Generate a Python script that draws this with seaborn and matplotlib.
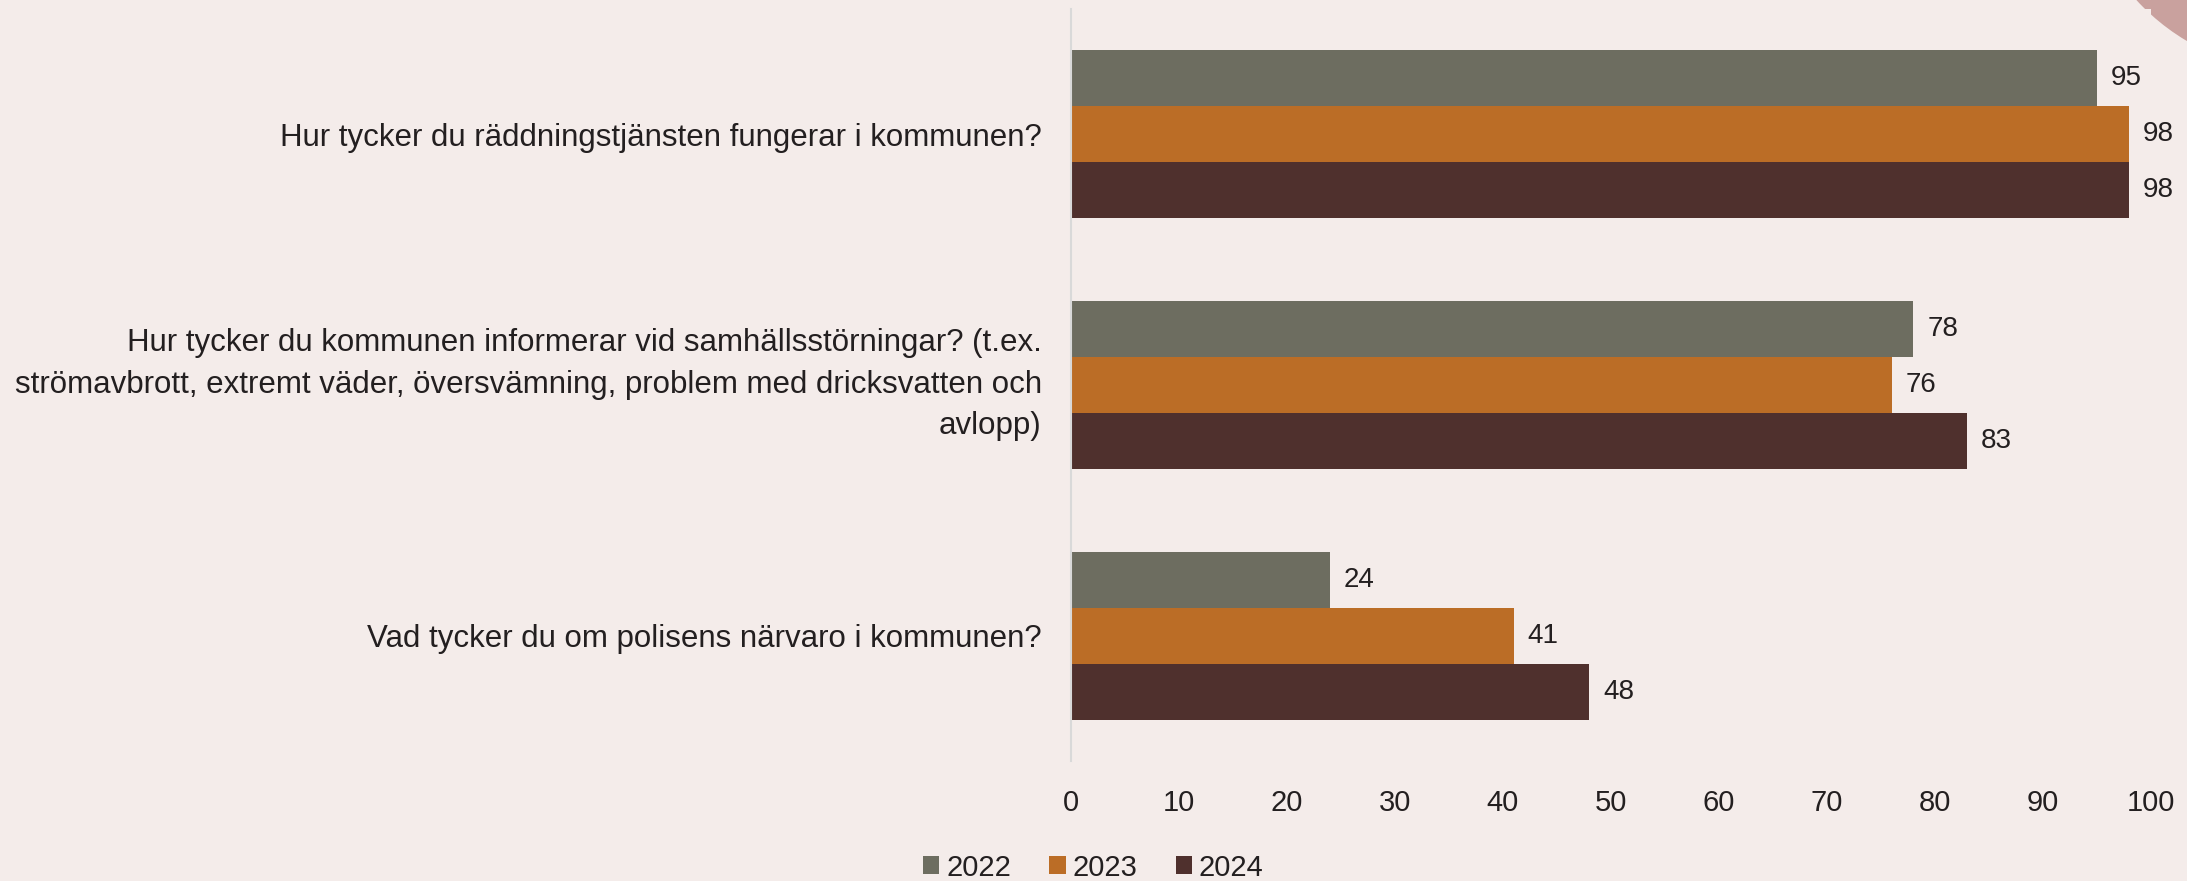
import matplotlib
matplotlib.use("Agg")
import matplotlib.pyplot as plt
import matplotlib.patches as mpatches
import seaborn as sns
import pandas as pd

questions = [
    "Hur tycker du räddningstjänsten fungerar i kommunen?",
    "Hur tycker du kommunen informerar vid samhällsstörningar? (t.ex.\nströmavbrott, extremt väder, översvämning, problem med dricksvatten och\navlopp)",
    "Vad tycker du om polisens närvaro i kommunen?",
]
years = ["2022", "2023", "2024"]
values_2022 = [95, 78, 24]
values_2023 = [98, 76, 41]
values_2024 = [98, 83, 48]
colors = ["#6d6d60", "#bb6d26", "#4f302d"]
xticks = [0, 10, 20, 30, 40, 50, 60, 70, 80, 90, 100]

bg = "#f4ecea"
text_color = "#231f20"

rows = []
for year, vals in zip(years, [values_2022, values_2023, values_2024]):
    for q, v in zip(questions, vals):
        rows.append({"Fråga": q, "År": year, "Värde": v})
df = pd.DataFrame(rows)

sns.set_theme(style="white")
plt.rcParams["font.family"] = ["Liberation Sans", "DejaVu Sans"]

fig = plt.figure(figsize=(21.87, 8.81), dpi=100, facecolor=bg)
ax = fig.add_axes([0.4897, 0.136, 0.9835 - 0.4897, 0.990 - 0.136])
ax.set_facecolor(bg)

sns.barplot(data=df, y="Fråga", x="Värde", hue="År", order=questions,
            hue_order=years, palette=colors, orient="h", width=0.67,
            linewidth=0, saturation=1, ax=ax, legend=False)

for cont in ax.containers:
    ax.bar_label(cont, fmt="%d", padding=10, fontsize=20, color=text_color)

ax.set_xlim(0, 100)
ax.set_xticks(xticks)
ax.set_xticklabels([str(t) for t in xticks])
ax.set_xlabel("")
ax.set_ylabel("")
ax.tick_params(axis="x", length=0, pad=20, labelsize=21, labelcolor=text_color)
ax.tick_params(axis="y", length=0, pad=21, labelsize=22.5, labelcolor=text_color)
for lbl in ax.get_yticklabels():
    if "\n" in lbl.get_text():
        lbl.set_linespacing(1.5)
        lbl.set_verticalalignment("center")

for s in ["top", "right", "bottom"]:
    ax.spines[s].set_visible(False)
ax.spines["left"].set_color("#d9d9d9")
ax.spines["left"].set_linewidth(1.5)

handles = [mpatches.Patch(facecolor=c, edgecolor="none", label=y) for c, y in zip(colors, years)]
leg = fig.legend(handles=handles, loc="center", bbox_to_anchor=(0.5, 0.0153), ncol=3,
                 frameon=False, fontsize=21, handlelength=0.55, handleheight=0.55,
                 handletextpad=0.25, columnspacing=1.3, borderaxespad=0)
for t in leg.get_texts():
    t.set_color(text_color)

# decorative circle in top right corner (figure inches)
circ = mpatches.Circle((23.00, 8.81 + 1.50), 2.22, transform=fig.dpi_scale_trans,
                       facecolor="#c9a19e", edgecolor="none", zorder=-1)
fig.patches.append(circ)

fig.savefig("out.png", dpi=100, facecolor=bg)
